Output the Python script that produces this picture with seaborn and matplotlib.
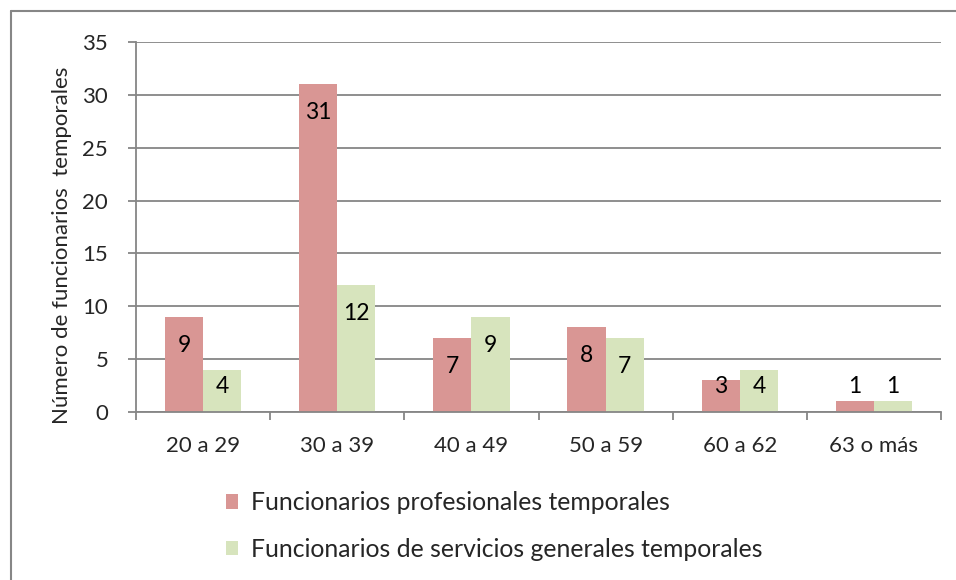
import pandas as pd
import matplotlib.pyplot as plt
import seaborn as sns
from matplotlib.lines import Line2D

# datos
grupos = ["20 a 29", "30 a 39", "40 a 49", "50 a 59", "60 a 62", "63 o más"]
profesionales = [9, 31, 7, 8, 3, 1]
servicios = [4, 12, 9, 7, 4, 1]
serie_prof = "Funcionarios profesionales temporales"
serie_serv = "Funcionarios de servicios generales temporales"

df = pd.DataFrame({
    "grupo": grupos * 2,
    "valor": profesionales + servicios,
    "serie": [serie_prof] * len(grupos) + [serie_serv] * len(grupos),
})

sns.set_style("white")
plt.rcParams["font.family"] = ["Lato", "DejaVu Sans"]

fig = plt.figure(figsize=(9.56, 5.8), dpi=100)
ax = fig.add_axes([136 / 956, 1 - 412 / 580, 805 / 956, 370 / 580])

gris = "#868686"
ax.set_axisbelow(True)
ax.yaxis.grid(True, color=gris, linewidth=1.3)

sns.barplot(data=df, x="grupo", y="valor", hue="serie",
            palette=["#D99694", "#D7E4BD"], width=0.57, saturation=1,
            linewidth=0, ax=ax, legend=True)

# etiquetas de datos
for cont in ax.containers:
    for barra in cont:
        v = barra.get_height()
        y = max(v - 2.7, 2.4)
        ax.text(barra.get_x() + barra.get_width() / 2, y, f"{v:.0f}",
                ha="center", va="center", fontsize=16.5, color="black")

ax.set_ylim(0, 35)
ax.set_yticks(range(0, 36, 5))
ax.set_xlim(-0.5, len(grupos) - 0.5)
ax.set_xlabel("")
ax.set_ylabel("Número de funcionarios  temporales", fontsize=16)
ax.yaxis.set_label_coords(-0.079, 0.45)

for s in ["top", "right"]:
    ax.spines[s].set_visible(False)
ax.spines["left"].set_color(gris)
ax.spines["bottom"].set_color(gris)
ax.spines["left"].set_linewidth(1.3)
ax.spines["bottom"].set_linewidth(1.3)

ax.tick_params(axis="y", left=True, length=6, color=gris, width=1.3,
               labelsize=16, pad=14)
ax.tick_params(axis="x", which="major", length=0, labelsize=16, pad=17)
ax.set_xticks([i - 0.5 for i in range(len(grupos) + 1)], minor=True)
ax.tick_params(axis="x", which="minor", bottom=True, length=6,
               color=gris, width=1.3)

handles, labels = ax.get_legend_handles_labels()
ax.legend(handles, labels, loc="center left",
          bbox_to_anchor=(226 / 956, 1 - 526 / 580),
          bbox_transform=fig.transFigure, frameon=False, fontsize=17.8,
          handlelength=0.5, handleheight=0.5, handletextpad=0.5,
          labelspacing=0.95, borderpad=0, borderaxespad=0)

# marco exterior (recortado)
fig.add_artist(Line2D([10.5 / 956, 10.5 / 956], [0, 1 - 11 / 580],
                      transform=fig.transFigure, color=gris, linewidth=1.5))
fig.add_artist(Line2D([10.5 / 956, 1], [1 - 11 / 580, 1 - 11 / 580],
                      transform=fig.transFigure, color=gris, linewidth=1.5))

fig.savefig("out.png", dpi=100)
